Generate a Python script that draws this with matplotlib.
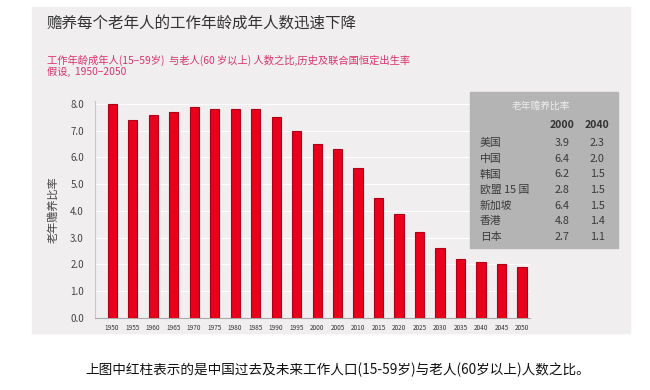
import numpy as np
import matplotlib
matplotlib.use('Agg')
import matplotlib.pyplot as plt
from matplotlib.patches import Rectangle

plt.rcParams['font.family'] = ['Noto Sans CJK SC', 'DejaVu Sans']

# data
years = ['1950', '1955', '1960', '1965', '1970', '1975', '1980', '1985', '1990', '1995', '2000',
         '2005', '2010', '2015', '2020', '2025', '2030', '2035', '2040', '2045', '2050']
ratio = [8.0, 7.4, 7.6, 7.7, 7.9, 7.8, 7.8, 7.8, 7.5, 7.0, 6.5,
         6.3, 5.6, 4.5, 3.9, 3.2, 2.6, 2.2, 2.1, 2.0, 1.9]

countries = ['美国', '中国', '韩国', '欧盟 15 国', '新加坡', '香港', '日本']
val_2000 = ['3.9', '6.4', '6.2', '2.8', '6.4', '4.8', '2.7']
val_2040 = ['2.3', '2.0', '1.5', '1.5', '1.5', '1.4', '1.1']

W, H = 650, 390
fig = plt.figure(figsize=(6.5, 3.9), dpi=100)

def fx(px):
    return px / W

def fy(py):
    return 1 - py / H

# panel background
fig.patches.append(Rectangle((fx(32), fy(333)), fx(630) - fx(32), fy(7) - fy(333),
                             transform=fig.transFigure, color='#f1eeef', zorder=-5))

ax = fig.add_axes([fx(95), fy(318), fx(530) - fx(95), fy(101.3) - fy(318)])
ax.set_zorder(2)
ax.set_facecolor('#f1eeef')
x = np.arange(len(years))
ax.bar(x, ratio, width=0.44, color='#e8001c', edgecolor='#b00018', linewidth=0.8, zorder=3)
ax.set_xlim(-0.83, 20.39)
ax.set_ylim(0, 8.1)
ax.set_yticks(np.arange(0, 8.1, 1.0))
ax.set_yticklabels(['%.1f' % v for v in np.arange(0, 8.1, 1.0)], fontsize=7, color='#444444')
ax.set_xticks(x)
ax.set_xticklabels(years, fontsize=4.6, color='#333333')
ax.tick_params(length=0, pad=4)
ax.tick_params(axis='y', pad=8)
ax.grid(axis='y', color='white', linewidth=0.8, zorder=1)
for s in ['top', 'right']:
    ax.spines[s].set_visible(False)
ax.spines['left'].set_color('#c8c8c8')
ax.spines['bottom'].set_color('#a8a8a8')

fig.text(fx(53), fy(210), '老年赡养比率', rotation=90, fontsize=8, color='#444444',
         ha='center', va='center')

# titles
fig.text(fx(47), fy(23), '赡养每个老年人的工作年龄成年人数迅速下降', fontsize=11.2,
         color='#333333', ha='left', va='center')
fig.text(fx(47), fy(60), '工作年龄成年人(15–59岁)  与老人(60 岁以上) 人数之比,历史及联合国恒定出生率',
         fontsize=7.4, color='#d9336a', ha='left', va='center')
fig.text(fx(47), fy(72), '假设,  1950–2050', fontsize=7.4, color='#d9336a', ha='left', va='center')

# inset table
fig.patches.append(Rectangle((fx(470), fy(248)), fx(618) - fx(470), fy(92) - fy(248),
                             transform=fig.transFigure, color='#b4b4b4', zorder=5))
fig.text(fx(541), fy(106), '老年赡养比率', fontsize=7, color='#ececec', ha='center', va='center', zorder=6)
fig.text(fx(562), fy(125), '2000', fontsize=7.5, fontweight='bold', color='#333333',
         ha='center', va='center', zorder=6)
fig.text(fx(597), fy(125), '2040', fontsize=7.5, fontweight='bold', color='#333333',
         ha='center', va='center', zorder=6)
for i, (c, a, b) in enumerate(zip(countries, val_2000, val_2040)):
    yy = fy(143.3 + i * 15.57)
    fig.text(fx(480), yy, c, fontsize=7.8, color='#3a3a3a', ha='left', va='center', zorder=6)
    fig.text(fx(562), yy, a, fontsize=7.8, color='#3a3a3a', ha='center', va='center', zorder=6)
    fig.text(fx(597), yy, b, fontsize=7.8, color='#3a3a3a', ha='center', va='center', zorder=6)

fig.text(fx(85), fy(370), '上图中红柱表示的是中国过去及未来工作人口(15-59岁)与老人(60岁以上)人数之比。',
         fontsize=9.8, color='#111111', ha='left', va='center')

fig.savefig('out.png', dpi=100, facecolor='white')
